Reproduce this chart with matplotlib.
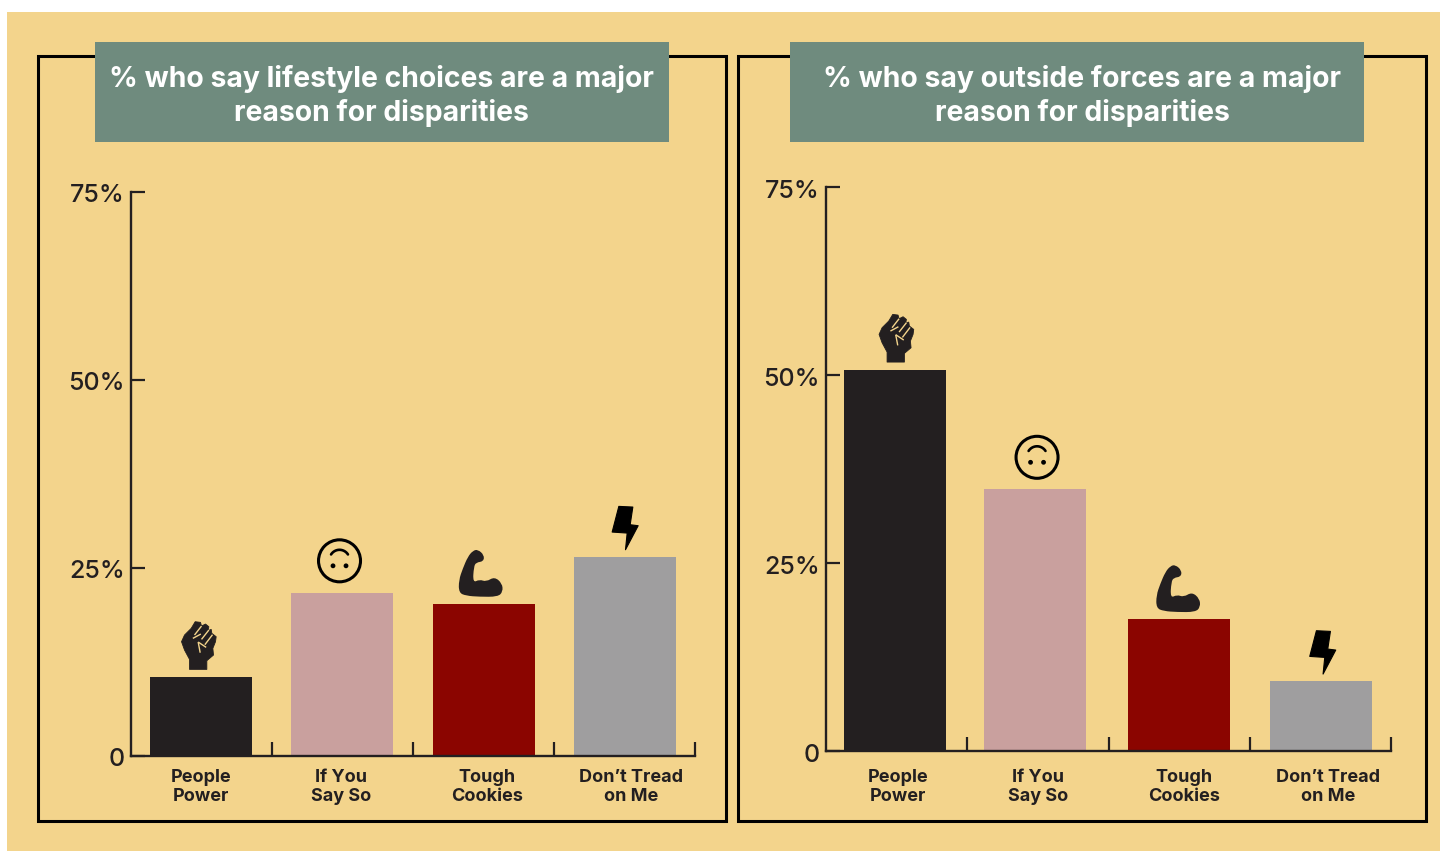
import matplotlib
matplotlib.use("Agg")
import matplotlib.pyplot as plt
import numpy as np
from matplotlib.patches import Circle, PathPatch, Polygon, Rectangle
from matplotlib.path import Path
from matplotlib.transforms import Affine2D

plt.rcParams['font.family'] = ['Inter', 'DejaVu Sans']

# Values
categories = ["People\nPower", "If You\nSay So", "Tough\nCookies", "Don\u2019t Tread\non Me"]
lifestyle_values = [10.5, 21.7, 20.2, 26.5]
outside_values = [50.7, 34.8, 17.5, 9.3]
y_ticks = [0, 25, 50, 75]
y_tick_labels = ["0", "25%", "50%", "75%"]
lifestyle_title = "% who say lifestyle choices are a major\nreason for disparities"
outside_title = "% who say outside forces are a major\nreason for disparities"

bar_colors = ["#231f20", "#c9a09e", "#8b0500", "#9f9e9f"]
BG = "#f3d48c"
BOX = "#6f8b7e"
INK = "#231f20"
W, H = 1440, 851


def zoom_pts(points, cx, top):
    """Convert points taken from a 3x crop to pixels relative to the bar centre/top."""
    pts = np.array(points, dtype=float)
    pts[:, 0] = (pts[:, 0] - cx) / 3
    pts[:, 1] = (pts[:, 1] - top) / 3
    return pts


def smooth_path(pts):
    # closed quadratic spline through the midpoints, rounds off the corners
    mids = (pts + np.roll(pts, -1, axis=0)) / 2
    verts = [mids[-1]]
    codes = [Path.MOVETO]
    for p, m in zip(pts, mids):
        verts += [p, m]
        codes += [Path.CURVE3, Path.CURVE3]
    return Path(np.array(verts), codes)


FIST = zoom_pts([(180, 508), (180, 478), (165, 450), (156, 425), (165, 405), (185, 385), (197, 365),
                 (213, 367), (216, 378), (228, 372), (238, 380), (236, 392), (245, 388), (247, 400),
                 (260, 410), (258, 425), (250, 445), (252, 465), (232, 482), (232, 508)], 213, 531)
FIST_SLITS = [zoom_pts(s, 213, 531) for s in [
    [(216, 378), (195, 405)], [(238, 390), (216, 418)], [(249, 404), (226, 434)],
    [(190, 415), (214, 402)], [(206, 426), (212, 458)], [(206, 426), (230, 442)]]]
MUSCLE = zoom_pts([(988, 278), (988, 240), (1000, 205), (1015, 170), (1030, 152), (1045, 148), (1064, 165),
                   (1062, 184), (1040, 187), (1033, 200), (1030, 248), (1050, 238), (1070, 245), (1095, 230),
                   (1118, 250), (1120, 275), (1105, 290), (1050, 290), (1010, 287)], 1062, 312)
BOLT = zoom_pts([(88, 35), (130, 37), (122, 90), (146, 93), (108, 165), (113, 115), (68, 112)], 105, 186)


def place(x, y):
    return Affine2D().scale(1, -1).translate(x, y)


def draw_icon(ax, kind, x_val, y_val, dx, dy=0):
    x_disp, y_disp = ax.transData.transform((x_val, y_val))
    tr = place(x_disp + dx, y_disp - dy)

    def add(patch):
        patch.set_transform(tr)
        patch.set_clip_on(False)
        patch.set_zorder(5)
        ax.add_artist(patch)

    if kind == 0:
        add(Polygon(FIST, closed=True, fc=INK, ec=INK, lw=0.6, joinstyle='round'))
        for slit in FIST_SLITS:
            add(PathPatch(Path(slit), fc='none', ec=BG, lw=1.0))
    elif kind == 1:
        add(Circle((0, -32), 21, fc='none', ec='black', lw=2.2))
        theta = np.linspace(np.pi * 1.18, np.pi * 1.82, 30)
        arc = np.column_stack([10 * np.cos(theta), -32 - 1 + 10 * np.sin(theta)])
        add(PathPatch(Path(arc), fc='none', ec='black', lw=1.9, capstyle='round'))
        add(Circle((-6.5, -27), 2.4, fc='black', ec='none'))
        add(Circle((6.5, -27), 2.4, fc='black', ec='none'))
    elif kind == 2:
        add(PathPatch(smooth_path(MUSCLE), fc=INK, ec='none'))
    else:
        add(Polygon(BOLT, closed=True, fc='black', ec='black', lw=0.8, joinstyle='round'))


def make_panel(x0, x1, y_top, y_zero, centers, values, icon_dx):
    ax = fig.add_axes([x0 / W, (H - y_zero) / H, (x1 - x0) / W, (y_zero - y_top) / H])
    ax.patch.set_alpha(0)
    ax.bar(centers, values, width=102 / ((x1 - x0) / 4), color=bar_colors, zorder=2)
    ax.set_xlim(-0.5, 3.5)
    ax.set_ylim(0, 75)
    for side in ['top', 'right']:
        ax.spines[side].set_visible(False)
    for side in ['left', 'bottom']:
        ax.spines[side].set_linewidth(1.7)
        ax.spines[side].set_color(INK)
    ax.set_yticks(y_ticks)
    ax.set_yticklabels(y_tick_labels, fontweight='medium')
    ax.set_xticks([0.5, 1.5, 2.5, 3.5])
    ax.set_xticklabels([])
    ax.tick_params(axis='both', direction='in', length=10, width=1.6, color=INK)
    ax.tick_params(axis='y', labelsize=18, labelcolor=INK, pad=4.5, right=False)
    for lab in ax.get_yticklabels():
        lab.set_transform(lab.get_transform() + Affine2D().translate(0, -1.5))
    for i in range(4):
        draw_icon(ax, i, centers[i], values[i], icon_dx[i])
    return ax


fig = plt.figure(figsize=(W / 100, H / 100), dpi=100, facecolor='white')

# Overlay in pixel coordinates for the frames, title boxes and category labels
bg = fig.add_axes([0, 0, 1, 1])
bg.set_xlim(0, W)
bg.set_ylim(H, 0)
bg.axis('off')
bg.add_patch(Rectangle((7, 12), W - 7, H - 12, fc=BG, ec='none'))

for fx, bx, title, tx in [(38, 95, lifestyle_title, 381), (738, 790, outside_title, 1082)]:
    bg.add_patch(Rectangle((fx - 0.5, 56), 688, 764.5, fc='none', ec='black', lw=2.2))
    bg.add_patch(Rectangle((bx, 42), 574, 100, fc=BOX, ec='none', zorder=3))
    bg.text(tx, 96, title, color='white', fontsize=20.4, fontweight='bold', ha='center', va='center',
            linespacing=1.25, zorder=4)

label_x_left = [201, 341, 487, 631]
label_x_right = [898, 1038, 1184, 1328]
for xs in (label_x_left, label_x_right):
    for lx, cat in zip(xs, categories):
        bg.text(lx, 787, cat, color=INK, fontsize=13, fontweight='bold', ha='center', va='center',
                linespacing=1.2)

make_panel(131, 695, 192, 756, [-0.007, 0.993, 2, 3], lifestyle_values, [0, -2, 0, 0])
make_panel(826, 1391, 187, 751, [-0.011, 0.98, 1.999, 3.005], outside_values, [3, 2, 2, 1])

fig.savefig("out.png", dpi=100, facecolor='white')
